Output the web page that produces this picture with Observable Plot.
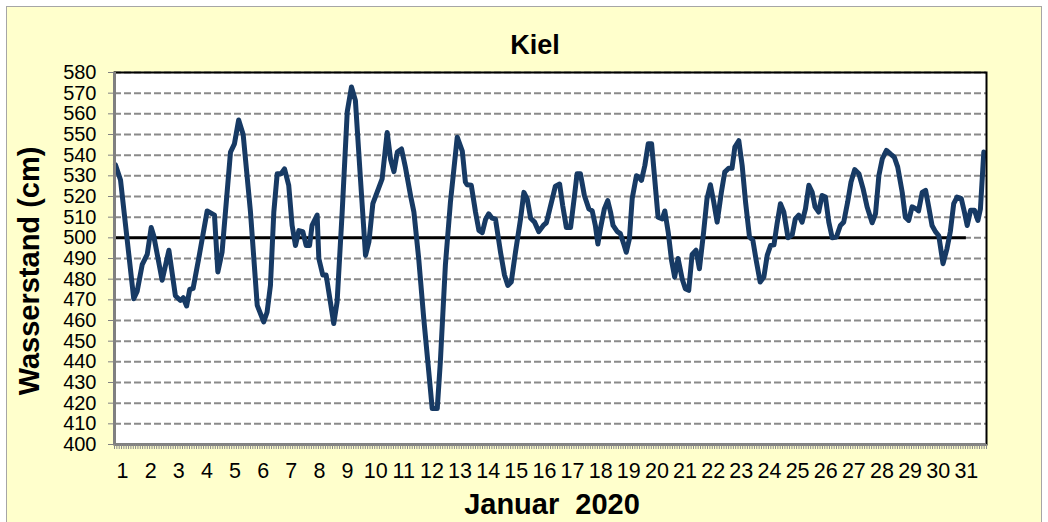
<!DOCTYPE html>
<html>
<head>
<meta charset="utf-8">
<script src="https://cdn.jsdelivr.net/npm/d3@7"></script>
<script src="https://cdn.jsdelivr.net/npm/@observablehq/plot@0.6"></script>
<style>
  html, body { margin: 0; padding: 0; background: #ffffff; }
  #wrap { position: relative; width: 1048px; height: 522px; overflow: hidden; }
  #panel { position: absolute; left: 6px; top: 6px; width: 1034px; height: 540px; background: #FFFFCC; border: 1.5px solid #A6A6A6; }
  #wrap svg { position: absolute; left: 0; top: 0; }
</style>
</head>
<body>
<div id="wrap"><div id="panel"></div></div>
<script>
// ---- data ----
const titleText = "Kiel";
const yLabelText = "Wasserstand (cm)";
const xLabelText = "Januar  2020";

// time in days of January 2020 (fractional), water level in cm
const days = [
  0.75, 0.93, 1.40, 1.52, 1.70, 1.88, 2.02, 2.11, 2.41, 2.65, 2.88, 3.06, 3.16, 3.28, 3.39, 3.51, 3.71,
  4.01, 4.27, 4.39, 4.54, 4.84, 4.98, 5.13, 5.29, 5.55, 5.79, 6.02, 6.14, 6.26, 6.38, 6.50, 6.64, 6.76,
  6.91, 7.03, 7.15, 7.27, 7.41, 7.53, 7.65, 7.74, 7.92, 7.98, 8.12, 8.24, 8.39, 8.51, 8.63, 8.81, 8.99,
  9.14, 9.28, 9.46, 9.64, 9.76, 9.90, 10.05, 10.23, 10.41, 10.53, 10.65, 10.77, 10.92, 11.06, 11.24,
  11.36, 11.53, 11.71, 11.89, 12.01, 12.19, 12.30, 12.48, 12.66, 12.90, 13.08, 13.19, 13.25, 13.40,
  13.55, 13.67, 13.79, 13.91, 14.02, 14.14, 14.26, 14.44, 14.58, 14.70, 14.82, 14.97, 15.15, 15.27,
  15.39, 15.51, 15.65, 15.80, 15.96, 16.07, 16.22, 16.39, 16.54, 16.65, 16.78, 16.93, 17.07, 17.16,
  17.28, 17.42, 17.58, 17.70, 17.81, 17.90, 17.99, 18.13, 18.25, 18.35, 18.44, 18.59, 18.70, 18.82,
  18.91, 19.02, 19.12, 19.27, 19.36, 19.45, 19.57, 19.69, 19.81, 19.92, 20.04, 20.19, 20.28, 20.40,
  20.52, 20.63, 20.75, 20.90, 21.01, 21.13, 21.25, 21.39, 21.51, 21.66, 21.78, 21.90, 22.02, 22.14,
  22.29, 22.41, 22.55, 22.67, 22.77, 22.91, 23.03, 23.15, 23.29, 23.41, 23.53, 23.67, 23.80, 23.92,
  24.04, 24.16, 24.27, 24.39, 24.51, 24.66, 24.81, 24.92, 25.04, 25.16, 25.28, 25.40, 25.52, 25.62,
  25.75, 25.87, 25.99, 26.11, 26.23, 26.38, 26.52, 26.64, 26.78, 26.90, 27.03, 27.18, 27.33, 27.47,
  27.65, 27.77, 27.89, 28.01, 28.16, 28.30, 28.44, 28.56, 28.72, 28.83, 28.95, 29.07, 29.22, 29.30,
  29.43, 29.55, 29.66, 29.78, 29.90, 30.02, 30.17, 30.31, 30.43, 30.55, 30.67, 30.82, 30.93, 31.03,
  31.15, 31.29, 31.41, 31.50, 31.62
];
const levels = [
  535.3, 528, 470.5, 474, 487, 492, 505, 501, 479.5, 494, 472, 469.7, 471, 467, 475, 475.5, 490,
  513, 511, 483.5, 493, 541.5, 545.5, 557, 550, 512.5, 467.3, 459.3, 464, 477, 512.5, 531, 531, 533.4,
  525.4, 506, 496.3, 503.5, 503, 496.3, 496.3, 506, 511, 490, 482, 482, 469, 458.5, 469, 512.5, 561,
  573, 566.5, 528.5, 491.5, 498, 516.5, 522, 528.5, 551, 538, 532, 541.5, 543, 534, 520.5,
  512.5, 490, 461, 435, 417.4, 417.4, 440, 487, 517.5, 548.7, 542, 527, 525.7, 525.4,
  512.5, 503.6, 502.5, 509, 511.6, 509.5, 509, 493, 482, 477, 478.6, 493, 509, 522,
  518.7, 509.5, 507.6, 503, 506, 507.3, 515.6, 525, 526, 515.6, 505, 505, 520.5, 531,
  531, 520.5, 514, 513, 506, 497, 504.4, 514, 518, 512.5, 506, 503, 502, 497,
  493, 499.5, 519, 530, 529.4, 527.8, 535, 545.5, 545.5, 528.6, 510, 509.2, 513, 502.8,
  489, 481, 490, 480, 475.4, 474.6, 492, 494, 485, 502.8, 519, 525.7, 517.3, 507.6,
  522, 531.8, 533.7, 533.7, 543.9, 547, 535, 517.3, 500.4, 498.8, 489, 478.6, 481, 491.5,
  496.3, 496.6, 506.8, 516.5, 512.5, 500, 501.5, 509.2, 511, 507.6, 514, 525.4, 522, 515,
  512.5, 520.5, 519.7, 507.6, 500, 500.4, 506, 507.6, 517.3, 527, 533, 531, 523.7, 515,
  507.3, 511.6, 530.2, 538.2, 542.3, 540.6, 539, 534.2, 522, 510, 508.4, 515, 514, 513,
  522, 523, 515, 506, 503, 501, 487.5, 494.7, 503, 516.5, 519.7, 519, 512.5, 506,
  513.3, 513.3, 508.4, 514, 541.5
];

const yTicks = [400, 410, 420, 430, 440, 450, 460, 470, 480, 490, 500, 510, 520, 530, 540, 550, 560, 570, 580];
const dayTicks = [1, 2, 3, 4, 5, 6, 7, 8, 9, 10, 11, 12, 13, 14, 15, 16, 17, 18, 19, 20, 21, 22, 23, 24, 25, 26, 27, 28, 29, 30, 31];
const refLevel = 500;     // Mittelwasser line
const refEndDay = 31;
const xDomain = [0.716, 31.716];
const yDomain = [400, 580];

// ---- build ----
const table = days.map((d, i) => ({day: d, level: levels[i]}));
const minorTicks = d3.range(0, 31 * 12 + 1).map(i => xDomain[0] + i / 12);

const svg = Plot.plot({
  width: 1048,
  height: 522,
  marginLeft: 114,
  marginRight: 62,
  marginTop: 72,
  marginBottom: 78,
  style: {background: "transparent", fontFamily: "'Liberation Sans', Arial, sans-serif", overflow: "visible"},
  x: {type: "linear", domain: xDomain},
  y: {type: "linear", domain: yDomain},
  marks: [
    Plot.frame({fill: "white", stroke: "none"}),
    Plot.ruleY(yTicks, {x1: xDomain[0], x2: xDomain[1], stroke: "#8a8a8a", strokeWidth: 2, strokeDasharray: "7,3"}),
    Plot.ruleY([refLevel], {x1: xDomain[0], x2: refEndDay, stroke: "black", strokeWidth: 3}),
    Plot.line(table, {x: "day", y: "level", stroke: "#173a64", strokeWidth: 5, strokeLinejoin: "round", strokeLinecap: "round"}),
    Plot.frame({stroke: "black", strokeWidth: 2}),
    Plot.ruleX([xDomain[0]], {stroke: "#808080", strokeWidth: 3}),
    Plot.ruleY([yDomain[0]], {stroke: "#808080", strokeWidth: 3}),
    Plot.axisY(yTicks, {tickSize: 6, tickPadding: 12, fontSize: 20, stroke: "#808080", fill: "black", label: null}),
    Plot.axisX(minorTicks, {tickSize: 5, tickFormat: () => "", stroke: "#8a8a8a", label: null}),
    Plot.axisX(dayTicks, {tickSize: 0, tickPadding: 18, fontSize: 21.5, fill: "black", label: null, tickFormat: d => String(d)})
  ]
});

const s = d3.select(svg);
s.append("text")
  .attr("x", 535).attr("y", 54)
  .attr("text-anchor", "middle")
  .attr("font-size", 27).attr("font-weight", "bold").attr("fill", "black")
  .text(titleText);
s.append("text")
  .attr("transform", "translate(39,271) rotate(-90)")
  .attr("text-anchor", "middle")
  .attr("font-size", 29).attr("font-weight", "bold").attr("fill", "black")
  .text(yLabelText);
s.append("text")
  .attr("x", 552).attr("y", 514)
  .attr("text-anchor", "middle")
  .attr("font-size", 29).attr("font-weight", "bold").attr("fill", "black")
  .style("white-space", "pre")
  .text(xLabelText);

document.getElementById("wrap").appendChild(svg);
</script>
</body>
</html>
